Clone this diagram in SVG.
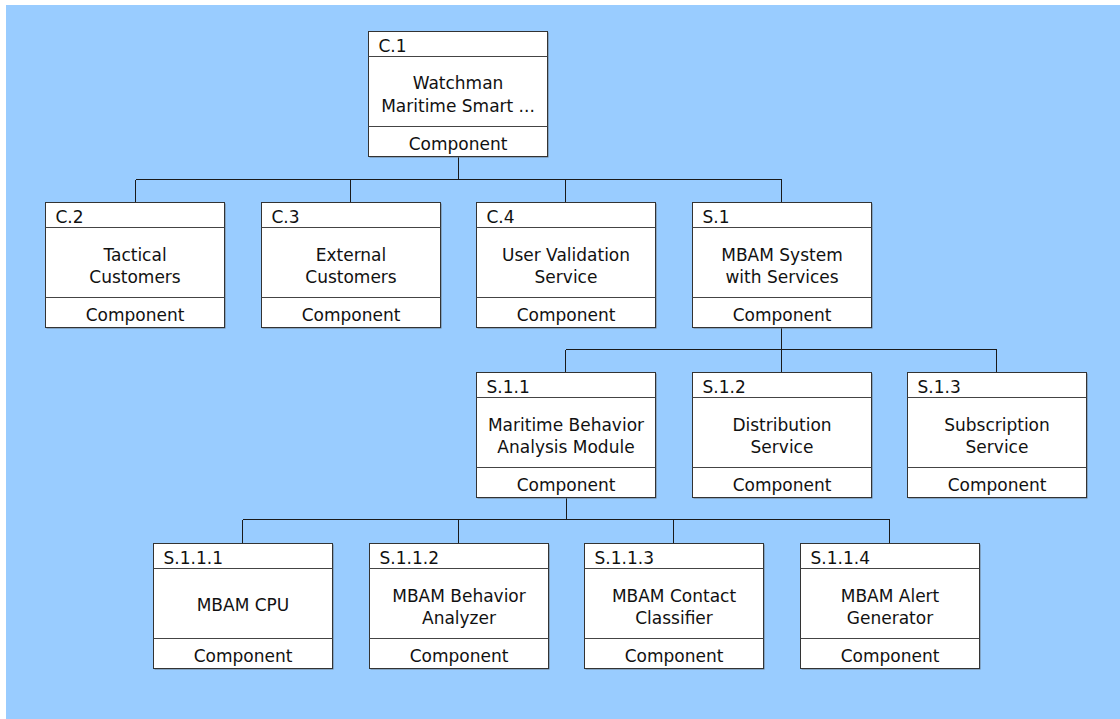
<svg xmlns="http://www.w3.org/2000/svg" width="1120" height="719" viewBox="0 0 1120 719">
<style>
.bg{fill:#99CCFF}
.sh{fill:#6a7a8a}
.box{fill:#ffffff;stroke:#333333;stroke-width:1}
.sep{stroke:#444444;stroke-width:1}
.lbl{font-family:"DejaVu Sans",Verdana,sans-serif;font-size:17px;fill:#111111}
.mid{text-anchor:middle}
.con{stroke:#1a1a1a;stroke-width:1;fill:none}
</style>
<defs>
<g id="frame">
<rect class="sh" x="1" y="1" width="179" height="125"/>
<rect class="box" x="0" y="0" width="179" height="125"/>
<line class="sep" x1="0" y1="25" x2="179" y2="25"/>
<line class="sep" x1="0" y1="95" x2="179" y2="95"/>
</g>
</defs>
<rect class="bg" x="6" y="5" width="1114" height="714"/>
<g id="connectors" shape-rendering="crispEdges">
<path class="con" d="M458.5,157 V179.5 M135.5,179.5 H781.5 M135.5,179.5 V202 M350.5,179.5 V202 M565.5,179.5 V202 M781.5,179.5 V202"/>
<path class="con" d="M781.5,327 V349.5 M565.5,349.5 H996.5 M565.5,349.5 V373 M781.5,349.5 V373 M996.5,349.5 V373"/>
<path class="con" d="M566,498 V519.5" stroke-width="2"/>
<path class="con" d="M242.5,519.5 H889.5 M242.5,519.5 V543 M458.5,519.5 V543 M673.5,519.5 V543 M889.5,519.5 V543"/>
</g>
<g id="C1" transform="translate(368.5,31.5)">
<use href="#frame"/>
<text class="lbl" x="10" y="20">C.1</text>
<text class="lbl mid" x="89.5" y="57">Watchman</text>
<text class="lbl mid" x="89.5" y="80">Maritime Smart ...</text>
<text class="lbl mid" x="89.5" y="118">Component</text>
</g>
<g id="C2" transform="translate(45.5,202.5)">
<use href="#frame"/>
<text class="lbl" x="10" y="20">C.2</text>
<text class="lbl mid" x="89.5" y="58">Tactical</text>
<text class="lbl mid" x="89.5" y="80.5">Customers</text>
<text class="lbl mid" x="89.5" y="118">Component</text>
</g>
<g id="C3" transform="translate(261.5,202.5)">
<use href="#frame"/>
<text class="lbl" x="10" y="20">C.3</text>
<text class="lbl mid" x="89.5" y="58">External</text>
<text class="lbl mid" x="89.5" y="80.5">Customers</text>
<text class="lbl mid" x="89.5" y="118">Component</text>
</g>
<g id="C4" transform="translate(476.5,202.5)">
<use href="#frame"/>
<text class="lbl" x="10" y="20">C.4</text>
<text class="lbl mid" x="89.5" y="58">User Validation</text>
<text class="lbl mid" x="89.5" y="80.5">Service</text>
<text class="lbl mid" x="89.5" y="118">Component</text>
</g>
<g id="S1" transform="translate(692.5,202.5)">
<use href="#frame"/>
<text class="lbl" x="10" y="20">S.1</text>
<text class="lbl mid" x="89.5" y="58">MBAM System</text>
<text class="lbl mid" x="89.5" y="80.5">with Services</text>
<text class="lbl mid" x="89.5" y="118">Component</text>
</g>
<g id="S1_1" transform="translate(476.5,372.5)">
<use href="#frame"/>
<text class="lbl" x="10" y="20">S.1.1</text>
<text class="lbl mid" x="89.5" y="58">Maritime Behavior</text>
<text class="lbl mid" x="89.5" y="80.5">Analysis Module</text>
<text class="lbl mid" x="89.5" y="118">Component</text>
</g>
<g id="S1_2" transform="translate(692.5,372.5)">
<use href="#frame"/>
<text class="lbl" x="10" y="20">S.1.2</text>
<text class="lbl mid" x="89.5" y="58">Distribution</text>
<text class="lbl mid" x="89.5" y="80.5">Service</text>
<text class="lbl mid" x="89.5" y="118">Component</text>
</g>
<g id="S1_3" transform="translate(907.5,372.5)">
<use href="#frame"/>
<text class="lbl" x="10" y="20">S.1.3</text>
<text class="lbl mid" x="89.5" y="58">Subscription</text>
<text class="lbl mid" x="89.5" y="80.5">Service</text>
<text class="lbl mid" x="89.5" y="118">Component</text>
</g>
<g id="S1_1_1" transform="translate(153.5,543.5)">
<use href="#frame"/>
<text class="lbl" x="10" y="20">S.1.1.1</text>
<text class="lbl mid" x="89.5" y="67">MBAM CPU</text>
<text class="lbl mid" x="89.5" y="118">Component</text>
</g>
<g id="S1_1_2" transform="translate(369.5,543.5)">
<use href="#frame"/>
<text class="lbl" x="10" y="20">S.1.1.2</text>
<text class="lbl mid" x="89.5" y="58">MBAM Behavior</text>
<text class="lbl mid" x="89.5" y="80.5">Analyzer</text>
<text class="lbl mid" x="89.5" y="118">Component</text>
</g>
<g id="S1_1_3" transform="translate(584.5,543.5)">
<use href="#frame"/>
<text class="lbl" x="10" y="20">S.1.1.3</text>
<text class="lbl mid" x="89.5" y="58">MBAM Contact</text>
<text class="lbl mid" x="89.5" y="80.5">Classifier</text>
<text class="lbl mid" x="89.5" y="118">Component</text>
</g>
<g id="S1_1_4" transform="translate(800.5,543.5)">
<use href="#frame"/>
<text class="lbl" x="10" y="20">S.1.1.4</text>
<text class="lbl mid" x="89.5" y="58">MBAM Alert</text>
<text class="lbl mid" x="89.5" y="80.5">Generator</text>
<text class="lbl mid" x="89.5" y="118">Component</text>
</g>
</svg>
